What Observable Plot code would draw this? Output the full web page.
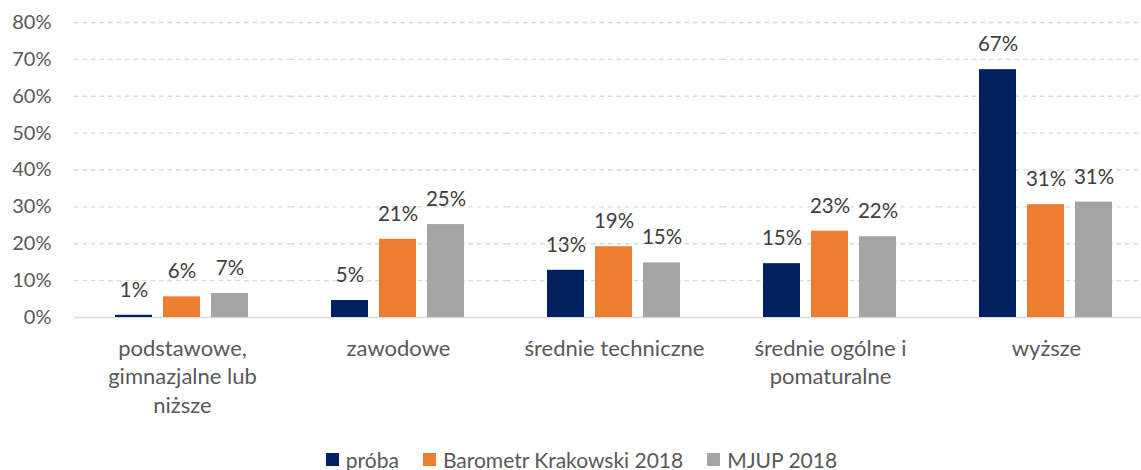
<!DOCTYPE html>
<html>
<head>
<meta charset="utf-8">
<script src="https://cdn.jsdelivr.net/npm/d3@7"></script>
<script src="https://cdn.jsdelivr.net/npm/@observablehq/plot@0.6"></script>
<style>
  html, body { margin: 0; padding: 0; background: #fff; overflow: hidden; }
  #chart { height: 430px; }
  #legend { display: flex; justify-content: center; align-items: center; width: 1141px; height: 24px; line-height: 1; margin-top: 17px; padding-left: 22px; box-sizing: border-box; font-family: Lato, sans-serif; font-size: 21px; color: #595959; }
  .item { display: flex; align-items: center; margin: 0 12px; }
  .sw { width: 13px; height: 13px; margin-right: 7px; }
</style>
</head>
<body>
<div id="chart"></div>
<div id="legend"></div>
<script>
const categories = ["podstawowe, gimnazjalne lub niższe", "zawodowe", "średnie techniczne", "średnie ogólne i pomaturalne", "wyższe"];
const categoryLabels = ["podstawowe,\ngimnazjalne lub\nniższe", "zawodowe", "średnie techniczne", "średnie ogólne i\npomaturalne", "wyższe"];
const series = ["próba", "Barometr Krakowski 2018", "MJUP 2018"];
const proba = [0.6, 4.6, 12.8, 14.6, 67.2];
const barometr = [5.6, 21.2, 19.2, 23.4, 30.6];
const mjup = [6.5, 25.2, 14.8, 21.9, 31.3];
const colors = ["#002060", "#ED7D31", "#A5A5A5"];
const yTicks = [0, 10, 20, 30, 40, 50, 60, 70, 80];

const seriesValues = [proba, barometr, mjup];
const data = [];
categories.forEach((c, i) => {
  series.forEach((s, j) => {
    data.push({cat: c, series: s, value: seriesValues[j][i]});
  });
});
const labelOf = new Map(categories.map((c, i) => [c, categoryLabels[i]]));

const chart = Plot.plot({
  width: 1141,
  height: 430,
  marginLeft: 74,
  marginRight: -13,
  marginTop: 22,
  marginBottom: 113,
  style: {fontFamily: "Lato, sans-serif", fontSize: "20px", color: "#595959", background: "white"},
  fx: {domain: categories, padding: 0, label: null},
  x: {domain: series, paddingInner: 0.22, paddingOuter: 0.86, axis: null},
  y: {domain: [0, 80], label: null},
  color: {domain: series, range: colors},
  marks: [
    Plot.gridY(yTicks.filter(d => d > 0), {stroke: "#d9d9d9", strokeOpacity: 1, strokeWidth: 1.3, strokeDasharray: "4.5,4"}),
    Plot.ruleY([0], {stroke: "#d9d9d9", strokeWidth: 1.7}),
    Plot.axisY({ticks: yTicks, tickSize: 0, tickPadding: 23, tickFormat: d => d + "%", label: null, fill: "#595959", fontSize: 20}),
    Plot.axisFx({anchor: "bottom", tickSize: 0, tickPadding: 18, lineHeight: 1.3, label: null, tickFormat: d => labelOf.get(d), fill: "#595959", fontSize: 22}),
    Plot.barY(data, {fx: "cat", x: "series", y: "value", fill: "series"}),
    Plot.text(data, {fx: "cat", x: "series", y: "value", text: d => Math.round(d.value) + "%", lineAnchor: "bottom", dy: -18.5, fill: "#404040", fontSize: 20.5})
  ]
});
document.getElementById("chart").appendChild(chart);

const legend = document.getElementById("legend");
series.forEach((s, i) => {
  const item = document.createElement("div");
  item.className = "item";
  const sw = document.createElement("span");
  sw.className = "sw";
  sw.style.background = colors[i];
  const t = document.createElement("span");
  t.textContent = s;
  item.appendChild(sw);
  item.appendChild(t);
  legend.appendChild(item);
});
</script>
</body>
</html>
